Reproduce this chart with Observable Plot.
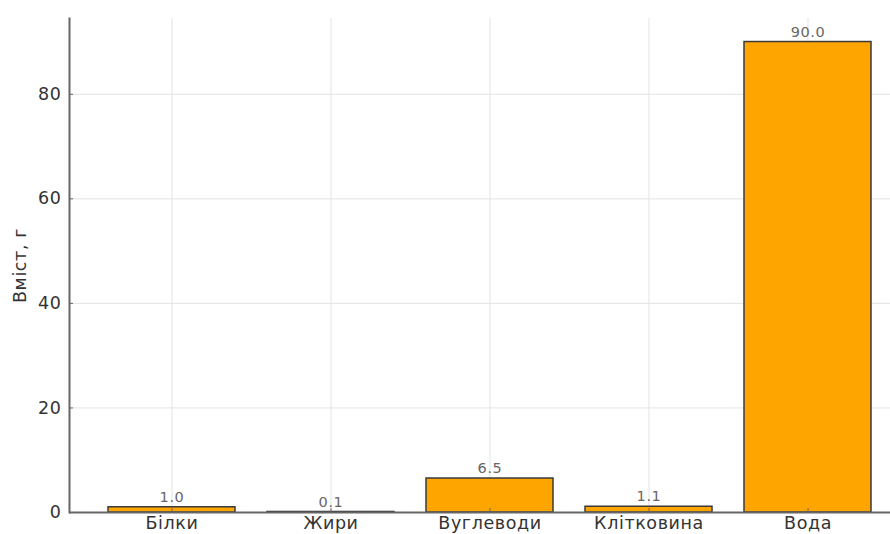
<!DOCTYPE html>
<html>
<head>
<meta charset="utf-8">
<script src="https://cdn.jsdelivr.net/npm/d3@7"></script>
<script src="https://cdn.jsdelivr.net/npm/@observablehq/plot@0.6"></script>
<style>
  html, body { margin: 0; padding: 0; background: #fff; }
  #chart { width: 890px; height: 534px; overflow: hidden; }
  #chart svg text { letter-spacing: 0.6px; }
</style>
</head>
<body>
<div id="chart"></div>
<script>
const categories = ["Білки", "Жири", "Вуглеводи", "Клітковина", "Вода"];
const values = [1.0, 0.1, 6.5, 1.1, 90.0];
const valueLabels = ["1.0", "0.1", "6.5", "1.1", "90.0"];
const yTicks = [0, 20, 40, 60, 80];
const yLabel = "Вміст, г";

const data = categories.map((c, i) => ({cat: c, value: values[i], label: valueLabels[i]}));

const chart = Plot.plot({
  width: 890,
  height: 534,
  marginTop: 18,
  marginBottom: 22,
  marginLeft: 69,
  marginRight: -20,
  style: {fontFamily: "DejaVu Sans", fontSize: "17.5px", color: "#333", background: "#fff"},
  x: {domain: categories, paddingInner: 0.2, paddingOuter: 0.24, align: 0.5},
  y: {domain: [0, 94.5]},
  marks: [
    Plot.gridY(yTicks, {stroke: "#e3e3e3", strokeOpacity: 1, strokeWidth: 1}),
    Plot.gridX({stroke: "#e3e3e3", strokeOpacity: 1, strokeWidth: 1}),
    Plot.barY(data, {x: "cat", y: "value", fill: "#FFA500", stroke: "#3a3a3a", strokeWidth: 1.5}),
    Plot.text(data, {x: "cat", y: "value", text: "label", dy: -10, fill: "#666", fontSize: 14.5}),
    Plot.axisY({ticks: yTicks, tickSize: -4, text: null, stroke: "#666", label: null}),
    Plot.axisY({ticks: yTicks, tickSize: 0, tickPadding: 8, fill: "#333", label: yLabel, labelAnchor: "center", labelOffset: 56, labelArrow: "none"}),
    Plot.axisX({tickSize: -4, text: null, stroke: "#666", label: null}),
    Plot.axisX({tickSize: 0, tickPadding: 4, fill: "#333", label: null}),
    Plot.ruleY([0], {stroke: "#666", strokeWidth: 2}),
    Plot.frame({anchor: "left", stroke: "#666", strokeWidth: 2})
  ]
});
document.getElementById("chart").appendChild(chart);
</script>
</body>
</html>
